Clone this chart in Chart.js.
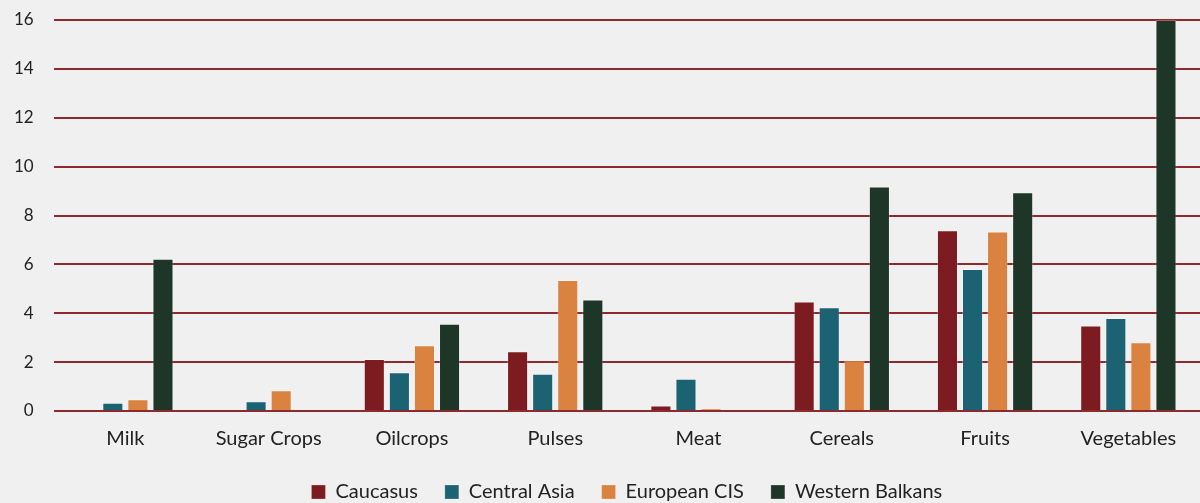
<!DOCTYPE html>
<html>
<head>
<meta charset="utf-8">
<script src="https://cdn.jsdelivr.net/npm/chart.js@4"></script>
<style>
  html, body { margin: 0; padding: 0; background: #f0f0f0; }
  #wrap { width: 1200px; height: 503px; }
</style>
</head>
<body>
<div id="wrap"><canvas id="chart"></canvas></div>
<script>
'use strict';

// Categories along the x-axis
var categories = ['Milk', 'Sugar Crops', 'Oilcrops', 'Pulses', 'Meat', 'Cereals', 'Fruits', 'Vegetables'];

// Series values
var caucasus = [0, 0, 2.13, 2.45, 0.22, 4.48, 7.4, 3.5];
var centralAsia = [0.34, 0.4, 1.59, 1.52, 1.32, 4.25, 5.81, 3.81];
var europeanCIS = [0.48, 0.85, 2.69, 5.36, 0.1, 2.08, 7.35, 2.81];
var westernBalkans = [6.23, 0, 3.57, 4.56, 0, 9.19, 8.95, 16.0];

// Y-axis ticks
var yTicks = [0, 2, 4, 6, 8, 10, 12, 14, 16];

var colors = ['#7c1c21', '#1b6272', '#da823f', '#1d3628'];
var font = 'Lato, "Open Sans", sans-serif';

function dataset(label, values, index) {
  return {
    label: label,
    data: values,
    backgroundColor: colors[index],
    borderColor: 'rgba(255,255,255,0.25)',
    borderWidth: 1,
    barPercentage: 0.84,
    categoryPercentage: 0.7
  };
}

var context = document.getElementById('chart').getContext('2d');
new Chart(context, {
  type: 'bar',
  data: {
    labels: categories,
    datasets: [
      dataset('Caucasus', caucasus, 0),
      dataset('Central Asia', centralAsia, 1),
      dataset('European CIS', europeanCIS, 2),
      dataset('Western Balkans', westernBalkans, 3)
    ]
  },
  options: {
    responsive: true,
    maintainAspectRatio: false,
    animation: false,
    layout: { padding: { top: 0, left: -6, right: 0, bottom: -9 } },
    plugins: {
      tooltip: { enabled: false },
      legend: {
        position: 'bottom',
        fullSize: false,
        labels: {
          boxWidth: 14,
          boxHeight: 14,
          padding: 27,
          color: '#222',
          font: { family: font, size: 20 }
        }
      }
    },
    scales: {
      x: {
        grid: { display: false, drawTicks: false },
        border: { display: false },
        afterFit: function (scale) { scale.height -= 12; },
        ticks: {
          padding: 16,
          color: '#222',
          font: { family: font, size: 20 }
        }
      },
      y: {
        min: 0,
        max: 16,
        afterBuildTicks: function (axis) {
          axis.ticks = yTicks.map(function (v) { return { value: v }; });
        },
        // keep the label gap from pushing the plot top down
        afterFit: function (scale) { scale.paddingTop = 20; },
        grid: { color: '#8d2a30', lineWidth: 2, drawTicks: false },
        border: { display: false },
        ticks: {
          padding: 20,
          color: '#222',
          font: { family: font, size: 17 }
        }
      }
    }
  }
});
</script>
</body>
</html>
